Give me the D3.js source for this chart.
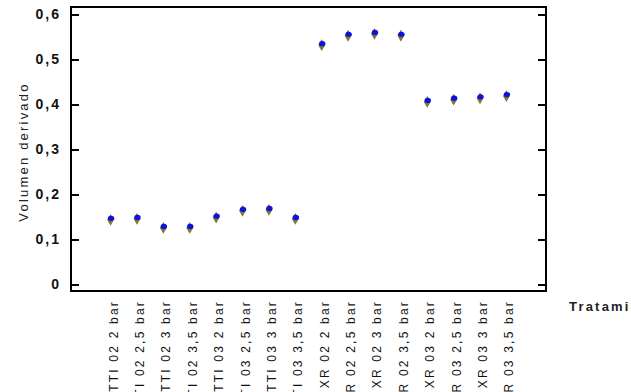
<!DOCTYPE html>
<html>
<head>
<meta charset="utf-8">
<script src="https://cdn.jsdelivr.net/npm/d3@7"></script>
<style>
  body { margin: 0; background: #fff; }
  svg { display: block; font-family: "Liberation Sans", Arial, sans-serif; }
</style>
</head>
<body>
<script>
// Volumen derivado por tratamiento

const w = 631;
const h = 392;
const margin = { top: 7, right: 85, bottom: 101, left: 71 };

const treatments = [
  "TTI 02 2 bar", "TTI 02 2,5 bar", "TTI 02 3 bar", "TTI 02 3,5 bar",
  "TTI 03 2 bar", "TTI 03 2,5 bar", "TTI 03 3 bar", "TTI 03 3,5 bar",
  "XR 02 2 bar", "XR 02 2,5 bar", "XR 02 3 bar", "XR 02 3,5 bar",
  "XR 03 2 bar", "XR 03 2,5 bar", "XR 03 3 bar", "XR 03 3,5 bar"
];
const volumen = [
  0.146, 0.148, 0.128, 0.128, 0.151, 0.166, 0.168, 0.148,
  0.534, 0.555, 0.559, 0.555, 0.408, 0.413, 0.416, 0.421
];
const yTicks = [0, 0.1, 0.2, 0.3, 0.4, 0.5, 0.6];

const x0 = margin.left, x1 = w - margin.right;
const y0 = h - margin.bottom, y1 = margin.top;

const svg = d3.select("body")
  .append("svg")
  .attr("width", w)
  .attr("height", h);

const x_scale = d3.scalePoint()
  .domain(treatments)
  .range([x0, x1])
  .padding(1.5);

const y_scale = d3.scaleLinear()
  .domain([0, 0.6])
  .range([284.5, 14.5]);

const fmt = d => d === 0 ? "0" : d3.format(".1f")(d).replace(".", ",");

// frame
svg.append("rect")
  .attr("x", x0).attr("y", y1)
  .attr("width", x1 - x0).attr("height", y0 - y1)
  .attr("fill", "none").attr("stroke", "#000").attr("stroke-width", 2);

const y_axis = d3.axisLeft(y_scale).tickValues(yTicks).tickSize(-8).tickPadding(10).tickFormat(fmt);
const gy = svg.append("g")
  .attr("transform", `translate(${x0},0)`)
  .call(y_axis);
gy.select(".domain").remove();
gy.selectAll("line").attr("stroke-width", 2);
gy.selectAll("text")
  .attr("font-size", 14)
  .attr("font-weight", "bold")
  .attr("letter-spacing", 2)
  .attr("fill", "#111");

const y_right = d3.axisRight(y_scale).tickValues(yTicks).tickSize(-8).tickFormat("");
const gr = svg.append("g")
  .attr("transform", `translate(${x1},0)`)
  .call(y_right);
gr.select(".domain").remove();
gr.selectAll("line").attr("stroke-width", 2);

// rotated category labels
svg.append("g")
  .selectAll("text")
  .data(treatments)
  .enter()
  .append("text")
  .attr("transform", d => `translate(${x_scale(d) + 7},300) rotate(-90)`)
  .attr("text-anchor", "end")
  .attr("font-size", 12)
  .attr("letter-spacing", 2.2)
  .attr("fill", "#111")
  .text(d => d);

svg.append("text")
  .attr("transform", `translate(28,152) rotate(-90)`)
  .attr("text-anchor", "middle")
  .attr("font-size", 13)
  .attr("letter-spacing", 2.2)
  .attr("fill", "#222")
  .text("Volumen derivado");

svg.append("text")
  .attr("x", 569)
  .attr("y", 311)
  .attr("font-size", 13)
  .attr("font-weight", "bold")
  .attr("letter-spacing", 2.2)
  .attr("fill", "#222")
  .text("Tratamiento");

// points: olive diamond with blue dot
const pts = svg.append("g")
  .selectAll("g")
  .data(volumen)
  .enter()
  .append("g")
  .attr("transform", (d, i) => `translate(${x_scale(treatments[i])},${y_scale(d)})`);

pts.append("path")
  .attr("d", d3.symbol(d3.symbolDiamond, 40))
  .attr("transform", "translate(0,1)")
  .attr("fill", "#7d7a2e");

pts.append("ellipse")
  .attr("cx", 0.5).attr("cy", -0.5)
  .attr("rx", 3.2).attr("ry", 2.6)
  .attr("fill", "#1010e0");
</script>
</body>
</html>
